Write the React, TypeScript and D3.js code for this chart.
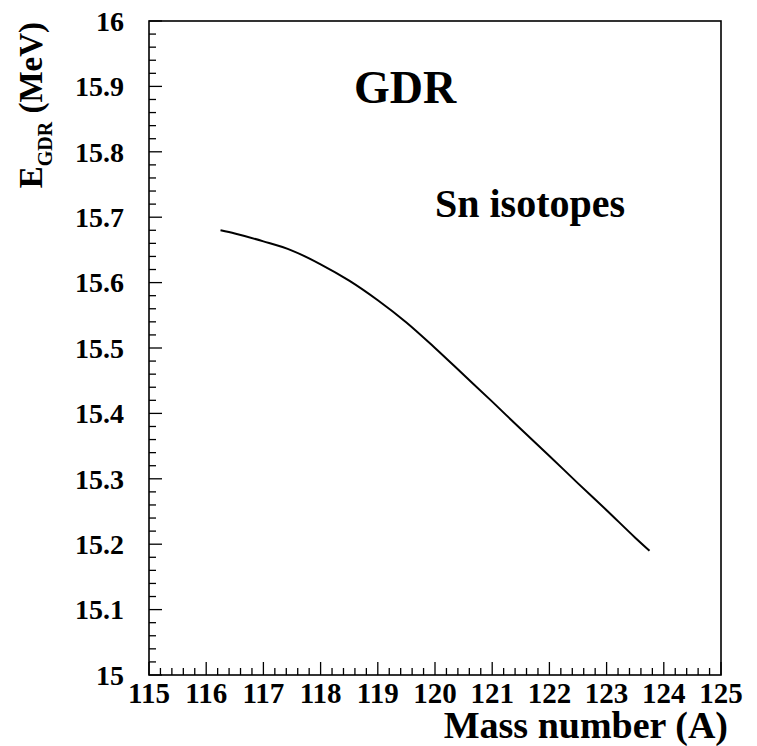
import React from "react";
import * as d3 from "d3";

// GDR centroid energy versus mass number for Sn isotopes
const massNumbers = [116.25, 116.5, 117, 117.5, 118, 118.5, 119, 119.5, 120, 120.5, 121, 121.5, 122, 122.5, 123, 123.5, 123.75];
const energies = [15.68, 15.675, 15.663, 15.649, 15.628, 15.603, 15.573, 15.539, 15.5, 15.459, 15.418, 15.376, 15.335, 15.293, 15.252, 15.21, 15.19];

const xTicks = [115, 116, 117, 118, 119, 120, 121, 122, 123, 124, 125];
const yTicks = [15, 15.1, 15.2, 15.3, 15.4, 15.5, 15.6, 15.7, 15.8, 15.9, 16];
const yTickLabels = ["15", "15.1", "15.2", "15.3", "15.4", "15.5", "15.6", "15.7", "15.8", "15.9", "16"];

const W = 757;
const H = 746;
const left = 149;
const right = 721;
const top = 21;
const bottom = 675;
const SERIF = '"Liberation Serif", "Times New Roman", Times, serif';

function Label(props: any) {
  const { children, ...rest } = props;
  return (
    <text {...rest} fontWeight="bold" fontFamily={SERIF} style={{ fontFamily: SERIF }}>
      {children}
    </text>
  );
}

export default function App() {
  const x = d3.scaleLinear().domain([115, 125]).range([left, right]);
  const y = d3.scaleLinear().domain([15, 16]).range([bottom, top]);

  const xMinor = d3.range(115, 125.0001, 0.2).filter((v) => Math.abs(v - Math.round(v)) > 1e-6);
  const yMinor = d3.range(15, 16.0001, 0.02).filter((v) => Math.abs(v * 10 - Math.round(v * 10)) > 1e-6);

  const pts: [number, number][] = massNumbers.map((a, i) => [a, energies[i]]);
  const line = d3
    .line<[number, number]>()
    .x((d) => x(d[0]))
    .y((d) => y(d[1]))
    .curve(d3.curveMonotoneX);

  return (
    <svg width={W} height={H} style={{ position: "absolute", left: 0, top: 0 }}>
      <rect x={0} y={0} width={W} height={H} fill="#fff" />
      {/* frame */}
      <rect x={left} y={top} width={right - left} height={bottom - top} fill="none" stroke="#000" strokeWidth={1.6} />

      {/* x ticks */}
      {xTicks.map((t) => (
        <line key={"xt" + t} x1={x(t)} x2={x(t)} y1={bottom} y2={bottom - 13} stroke="#000" strokeWidth={1.3} />
      ))}
      {xMinor.map((t, i) => (
        <line key={"xm" + i} x1={x(t)} x2={x(t)} y1={bottom} y2={bottom - 7} stroke="#000" strokeWidth={1.3} />
      ))}
      {xTicks.map((t) => (
        <Label key={"xl" + t} x={x(t)} y={703} textAnchor="middle" fontSize={29}>
          {String(t)}
        </Label>
      ))}

      {/* y ticks */}
      {yTicks.map((t) => (
        <line key={"yt" + t} x1={left} x2={left + 13} y1={y(t)} y2={y(t)} stroke="#000" strokeWidth={1.3} />
      ))}
      {yMinor.map((t, i) => (
        <line key={"ym" + i} x1={left} x2={left + 7} y1={y(t)} y2={y(t)} stroke="#000" strokeWidth={1.3} />
      ))}
      {yTicks.map((t, i) => (
        <Label key={"yl" + t} x={124} y={y(t)} dy="0.35em" textAnchor="end" fontSize={28}>
          {yTickLabels[i]}
        </Label>
      ))}

      {/* curve */}
      <path d={line(pts) || ""} fill="none" stroke="#000" strokeWidth={2} />

      {/* annotations */}
      <Label x={354} y={103} fontSize={46}>GDR</Label>
      <Label x={435} y={217} fontSize={40}>Sn isotopes</Label>

      {/* axis titles */}
      <Label x={728} y={738} textAnchor="end" fontSize={38}>Mass number (A)</Label>
      <Label transform="translate(42,22) rotate(-90)" textAnchor="end" fontSize={33}>
        E<tspan fontSize={20} dy={10}>GDR</tspan>
        <tspan dy={-10}> (MeV)</tspan>
      </Label>
    </svg>
  );
}
